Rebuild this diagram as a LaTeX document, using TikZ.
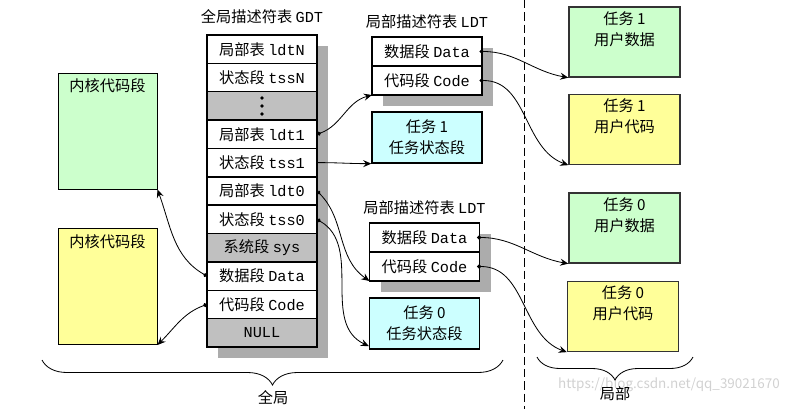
\documentclass[tikz,border=0pt]{standalone}
\usepackage{fontspec}
\setmonofont{Liberation Mono}
\newfontfamily\cjk{Noto Sans CJK SC}
\usetikzlibrary{arrows.meta,decorations.pathreplacing,backgrounds}
\definecolor{kgreen}{HTML}{CCFFCC}
\definecolor{kyellow}{HTML}{FFFF99}
\definecolor{kcyan}{HTML}{CCFFFF}
\definecolor{rowgray}{HTML}{C0C0C0}
\definecolor{shadowgray}{HTML}{ACACAC}
\tikzset{
  gdtrow/.style={draw, line width=1.2pt, fill=white, minimum width=3.3cm, minimum height=0.851cm, inner sep=0pt, outer sep=0pt},
  sysrow/.style={gdtrow, fill=rowgray},
  ldtrow/.style={draw, line width=1pt, fill=white, minimum width=3.3cm, minimum height=0.87cm, inner sep=0pt, outer sep=0pt},
  segbox/.style={draw, line width=0.8pt, minimum width=2.97cm, minimum height=3.48cm},
  taskbox/.style={draw=black!80, line width=1.1pt, minimum width=3.33cm, minimum height=2.1cm},
  tssbox/.style={draw, line width=1.1pt, fill=kcyan, minimum width=3.3cm, minimum height=1.53cm, align=center},
  link/.style={-{Stealth[length=7pt,width=6pt,inset=2.5pt]}, line width=0.7pt},
  dotlink/.style={{Circle[length=3.5pt]}-{Stealth[length=7pt,width=6pt,inset=2.5pt]}, line width=0.7pt},
  rangebrace/.style={decorate, line width=0.7pt, decoration={brace, mirror, amplitude=#1}},
}
\begin{document}
\begin{tikzpicture}[x=0.03cm, y=-0.03cm, font=\cjk\fontsize{13}{18}\selectfont]
\useasboundingbox (0,0) rectangle (801,409);
\node[text=black!18, font=\cjk\fontsize{11.5}{12}\selectfont] (wmark) at (669,385) {https://blog.csdn.net/qq\_39021670};

% kernel segments
\node[segbox, fill=kgreen, label={[anchor=north, inner sep=5pt]north:内核代码段}] (kdata) at (107.5,131) {};
\node[segbox, fill=kyellow, label={[anchor=north, inner sep=5pt]north:内核代码段}] (kcode) at (107.5,286.5) {};

% GDT
\node (gdttitle) at (262,17) {全局描述符表 \texttt{GDT}};
\node[gdtrow] (gldtN) at (262,49.2) {局部表 \texttt{ldtN}};
\node[gdtrow] (gtssN) at (262,77.5) {状态段 \texttt{tssN}};
\node[sysrow] (gdots) at (262,105.9) {};
\fill ([shift={(0,-8)}]gdots.center) circle (1.6pt);
\fill (gdots.center) circle (1.6pt);
\fill ([shift={(0,8)}]gdots.center) circle (1.6pt);
\node[gdtrow] (gldtA) at (262,134.3) {局部表 \texttt{ldt1}};
\node[gdtrow] (gtssA) at (262,162.6) {状态段 \texttt{tss1}};
\node[gdtrow] (gldtB) at (262,191.0) {局部表 \texttt{ldt0}};
\node[gdtrow] (gtssB) at (262,219.4) {状态段 \texttt{tss0}};
\node[sysrow] (gsys) at (262,247.7) {系统段 \texttt{sys}};
\node[gdtrow] (gdata) at (262,276.1) {数据段 \texttt{Data}};
\node[gdtrow] (gcode) at (262,304.4) {代码段 \texttt{Code}};
\node[sysrow] (gnull) at (262,332.8) {\texttt{NULL}};
\draw[line width=2.4pt] (gldtN.north west) rectangle (gnull.south east);

% LDT of task 1
\node (ldtAtitle) at (427,22) {局部描述符表 \texttt{LDT}};
\node[ldtrow] (ldtAdata) at (427,51.5) {数据段 \texttt{Data}};
\node[ldtrow] (ldtAcode) at (427,80.5) {代码段 \texttt{Code}};
\draw[line width=1.4pt] (ldtAdata.north west) rectangle (ldtAcode.south east);
\node[tssbox] (tssA) at (427,137.5) {任务 1\\任务状态段};

% LDT of task 0
\node (ldtBtitle) at (424.5,208) {局部描述符表 \texttt{LDT}};
\node[ldtrow] (ldtBdata) at (424.5,237.5) {数据段 \texttt{Data}};
\node[ldtrow] (ldtBcode) at (424.5,266.5) {代码段 \texttt{Code}};
\draw[line width=1.4pt] (ldtBdata.north west) rectangle (ldtBcode.south east);
\node[tssbox] (tssB) at (424.5,323.5) {任务 0\\任务状态段};

% shadows
\begin{scope}[on background layer]
\fill[shadowgray] ([shift={(11,11)}]gldtN.north west) rectangle ([shift={(11,11)}]gnull.south east);
\fill[shadowgray] ([shift={(11,11)}]ldtAdata.north west) rectangle ([shift={(11,11)}]ldtAcode.south east);
\fill[shadowgray] ([shift={(11,11)}]ldtBdata.north west) rectangle ([shift={(11,11)}]ldtBcode.south east);
\end{scope}

% user segments
\draw[line width=0.6pt, dash pattern=on 7pt off 3.5pt] (524,0) -- (524,409);
\node[taskbox, fill=kgreen, label={[anchor=north, align=center, inner sep=4pt]north:任务 1\\用户数据}] (userAdata) at (624.5,42) {};
\node[taskbox, fill=kyellow, label={[anchor=north, align=center, inner sep=4pt]north:任务 1\\用户代码}] (userAcode) at (624.5,129.5) {};
\node[taskbox, fill=kgreen, label={[anchor=north, align=center, inner sep=4pt]north:任务 0\\用户数据}] (userBdata) at (624.5,228) {};
\node[taskbox, fill=kyellow, label={[anchor=north, align=center, inner sep=4pt]north:任务 0\\用户代码}] (userBcode) at (623,316.5) {};

% links
\draw[dotlink] (gdata.west) to[out=150, in=-70] (kdata.south east);
\draw[dotlink] (gcode.west) to[out=200, in=45] (kcode.south east);
\draw[dotlink] (gldtA.east) to[out=20, in=195] (ldtAcode.south west);
\draw[link] (gtssA.east) to[out=0, in=180] (tssA.south west);
\draw[dotlink] (gldtB.east) to[out=-45, in=145] (ldtBcode.south west);
\draw[dotlink] (gtssB.east) to[out=-30, in=155] ([yshift=3pt]tssB.south west);
\draw[dotlink] ([xshift=-2pt]ldtAdata.east) to[out=0, in=170] (userAdata.south west);
\draw[dotlink] ([xshift=-2pt]ldtAcode.east) to[out=0, in=160] (userAcode.south west);
\draw[dotlink] ([xshift=-2pt]ldtBdata.east) to[out=0, in=170] (userBdata.south west);
\draw[dotlink] ([xshift=-2pt]ldtBcode.east) to[out=0, in=160] (userBcode.south west);

% braces
\draw[rangebrace=0.75cm] (42,360) -- (503,360);
\node (globallabel) at (273,398) {全局};
\draw[rangebrace=0.69cm] (537,357) -- (693,357);
\node (locallabel) at (615,394) {局部};
\end{tikzpicture}
\end{document}
